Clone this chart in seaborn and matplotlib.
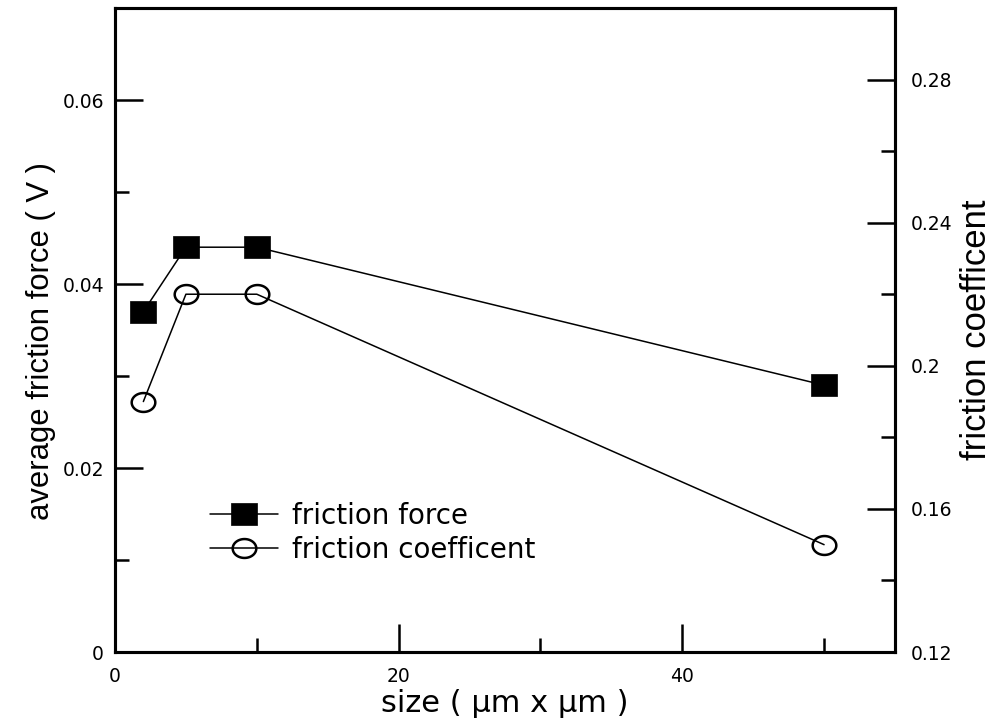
import numpy as np
import pandas as pd
import matplotlib
matplotlib.use("Agg")
import matplotlib.pyplot as plt
from matplotlib.path import Path
from matplotlib import font_manager
from matplotlib.ticker import FixedLocator, FixedFormatter
import seaborn as sns

# ---- data ----
size_um = [2, 5, 10, 50]
friction_force = [0.037, 0.044, 0.044, 0.029]
friction_coeff = [0.19, 0.22, 0.22, 0.15]

x_ticks = [0, 20, 40]
x_ticklabels = ["0", "20", "40"]
x_minor = [10, 30, 50]
yl_ticks = [0, 0.02, 0.04, 0.06]
yl_ticklabels = ["0", "0.02", "0.04", "0.06"]
yl_minor = [0.01, 0.03, 0.05]
yr_ticks = [0.12, 0.16, 0.20, 0.24, 0.28]
yr_ticklabels = ["0.12", "0.16", "0.2", "0.24", "0.28"]
yr_minor = [0.14, 0.18, 0.22, 0.26]

sns.set_style("ticks")
plt.rcParams['font.family'] = ['DejaVu Sans']
plt.rcParams['text.color'] = 'black'
plt.rcParams['axes.labelcolor'] = 'black'

names = {f.name for f in font_manager.fontManager.ttflist}
narrow = 'Liberation Sans Narrow' if 'Liberation Sans Narrow' in names else 'Liberation Sans'

fig = plt.figure(figsize=(9.93, 7.19), dpi=100)
ax = fig.add_axes([115/993, 1-652/719, (895-115)/993, (652-8)/719])
ax2 = ax.twinx()

rect = Path([(-0.5, -0.42), (0.5, -0.42), (0.5, 0.42), (-0.5, 0.42), (-0.5, -0.42)],
            [Path.MOVETO, Path.LINETO, Path.LINETO, Path.LINETO, Path.CLOSEPOLY])
t = np.linspace(0, 2*np.pi, 73)
ell = Path(np.column_stack([0.5*np.cos(t), 0.4*np.sin(t)]), closed=True)

df = pd.DataFrame({"size": size_um, "force": friction_force, "coef": friction_coeff})

sns.lineplot(data=df, x="size", y="force", ax=ax, color="black", linewidth=1.1,
             marker=rect, markersize=18.5, markerfacecolor="black",
             markeredgecolor="black", markeredgewidth=0.5, label="friction force",
             legend=False)
sns.lineplot(data=df, x="size", y="coef", ax=ax2, color="black", linewidth=1.1,
             marker=ell, markersize=17, markerfacecolor="none",
             markeredgecolor="black", markeredgewidth=1.8, label="friction coefficent",
             legend=False)

ax.set_xlim(0, 55)
ax.set_ylim(0, 0.07)
ax2.set_ylim(0.12, 0.30)

ax.xaxis.set_major_locator(FixedLocator(x_ticks))
ax.xaxis.set_major_formatter(FixedFormatter(x_ticklabels))
ax.xaxis.set_minor_locator(FixedLocator(x_minor))
ax.yaxis.set_major_locator(FixedLocator(yl_ticks))
ax.yaxis.set_major_formatter(FixedFormatter(yl_ticklabels))
ax.yaxis.set_minor_locator(FixedLocator(yl_minor))
ax2.yaxis.set_major_locator(FixedLocator(yr_ticks))
ax2.yaxis.set_major_formatter(FixedFormatter(yr_ticklabels))
ax2.yaxis.set_minor_locator(FixedLocator(yr_minor))

for a in (ax, ax2):
    for s in a.spines.values():
        s.set_linewidth(2.2)
        s.set_visible(True)
        s.set_color("black")

ax.tick_params(axis='both', which='major', direction='in', length=20, width=1.8,
               labelsize=13.5, colors='black')
ax.tick_params(axis='both', which='minor', direction='in', length=10, width=1.8,
               colors='black')
ax.tick_params(axis='x', which='both', top=False, pad=11)
ax.tick_params(axis='y', which='both', right=False, pad=8)
ax2.tick_params(axis='y', which='major', direction='in', length=20, width=1.8,
                labelsize=13.5, pad=11, colors='black')
ax2.tick_params(axis='y', which='minor', direction='in', length=10, width=1.8,
                colors='black')

ax.set_xlabel("size ( µm x µm )", fontsize=22, labelpad=2, color='black')
ax.set_ylabel("average friction force ( V )", fontsize=22.3,
              family=[narrow, 'DejaVu Sans'], labelpad=8, color='black')
ax.yaxis.set_label_coords(-0.076, 0.483)
ax2.set_ylabel("friction coefficent", fontsize=25,
               family=[narrow, 'DejaVu Sans'], labelpad=6, color='black')
ax.grid(False)
ax2.grid(False)

handles = ax.get_lines()[:1] + ax2.get_lines()[:1]
labels = ["friction force", "friction coefficent"]
ax.legend(handles, labels, loc='upper left', bbox_to_anchor=(0.1218, 0.233),
          frameon=False, fontsize=20, handlelength=2.45, handletextpad=0.5,
          labelspacing=0.2, borderpad=0, borderaxespad=0, labelcolor='black')

fig.savefig("out.png", dpi=100)
